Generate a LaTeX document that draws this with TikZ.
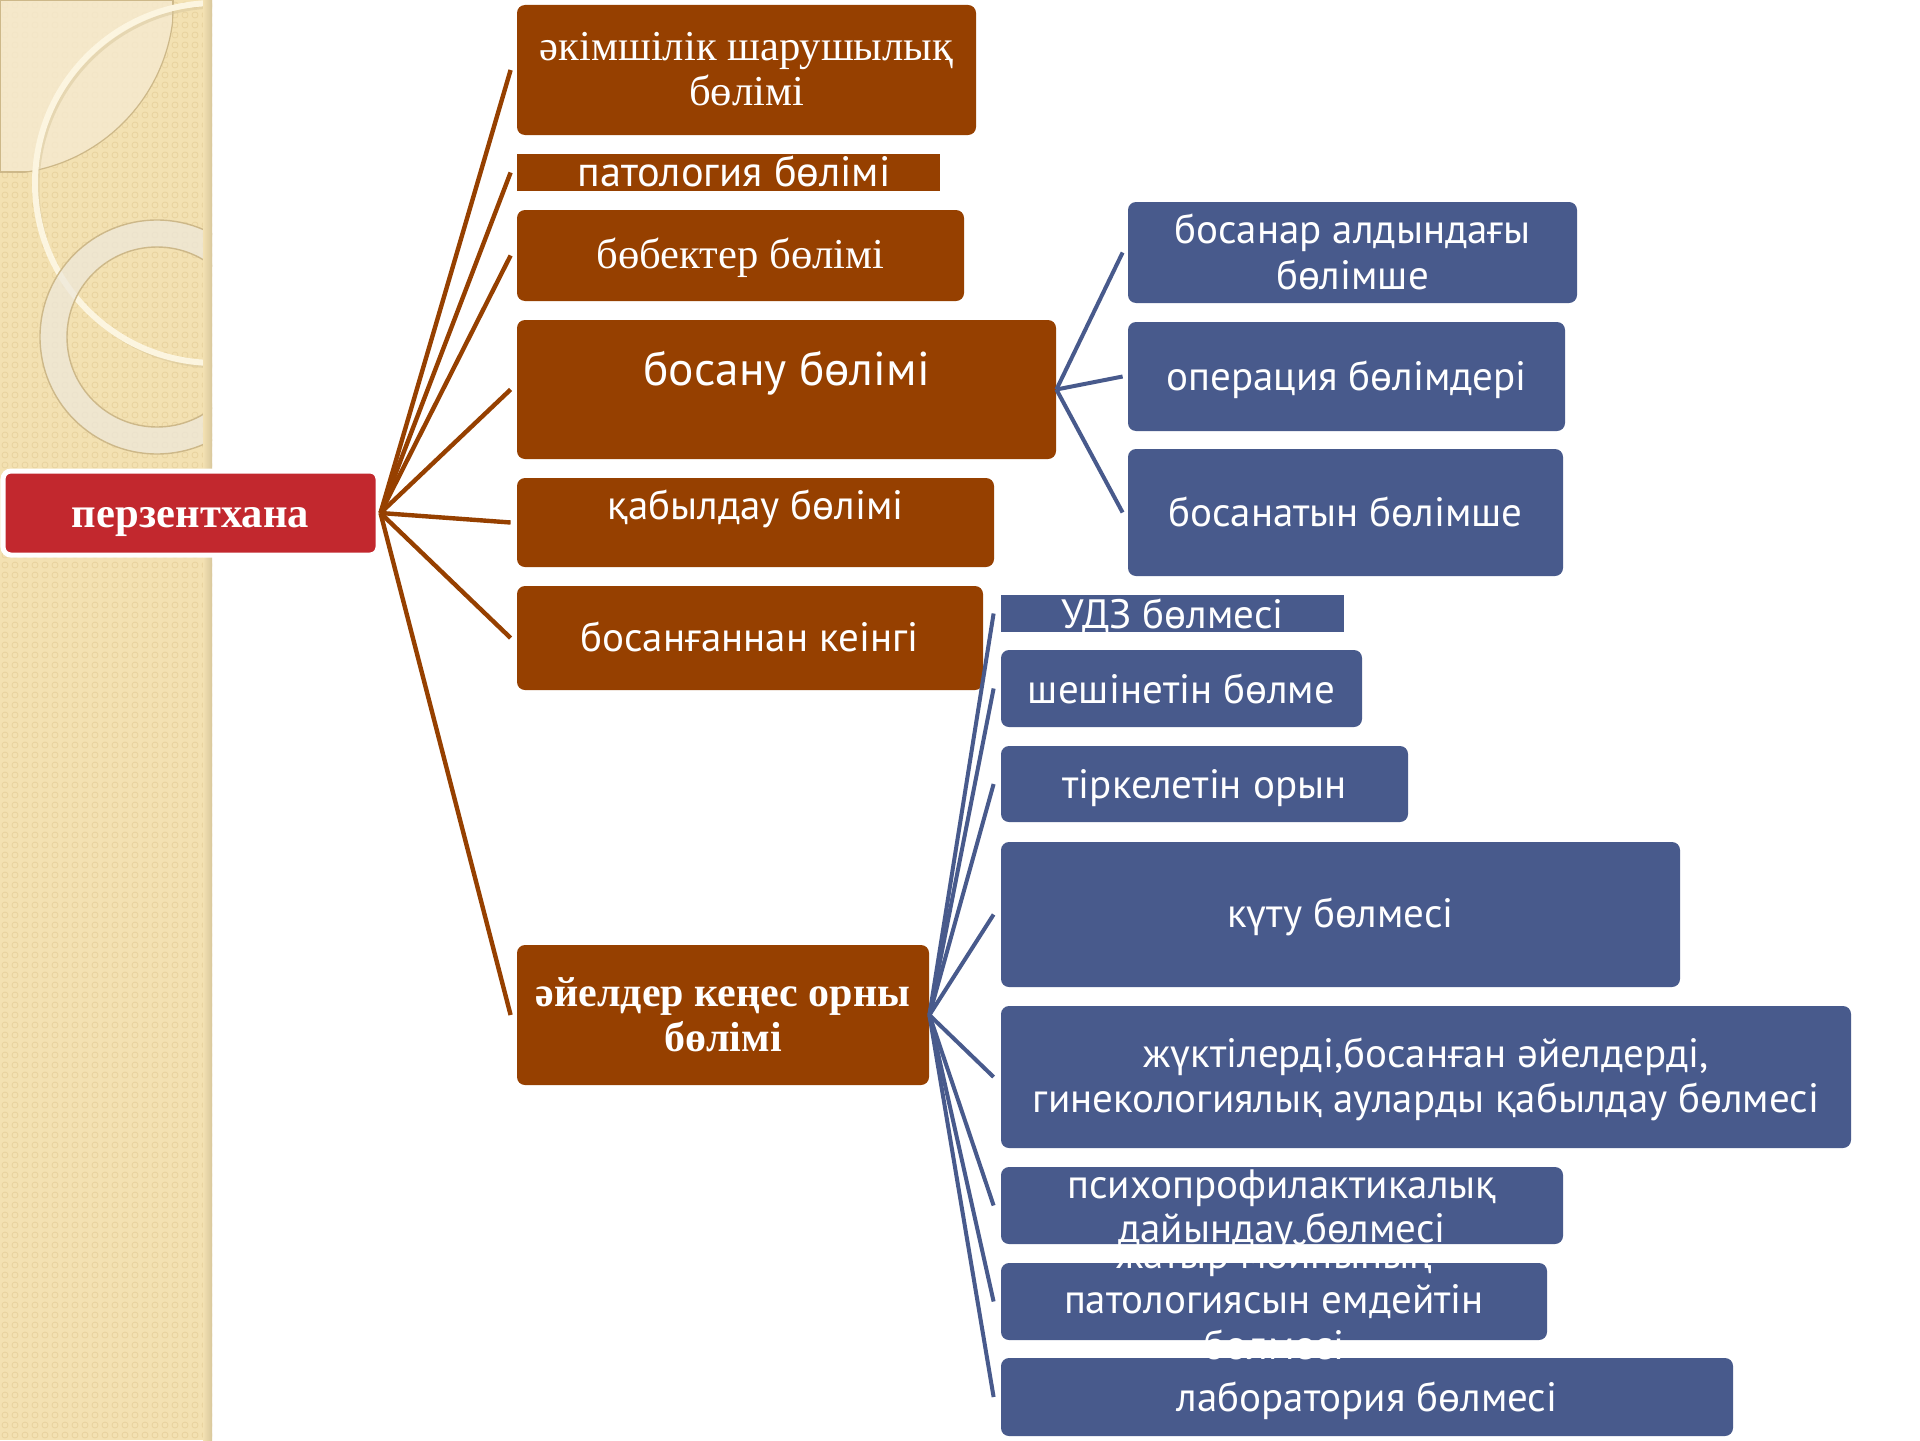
\documentclass[tikz,border=0pt]{standalone}
\usepackage{fontspec}
\setmainfont{Liberation Serif}
\newfontfamily\gsans{PT Sans}
\usetikzlibrary{fit,calc}
\definecolor{brn}{HTML}{964000}
\definecolor{blu}{HTML}{485A8C}
\definecolor{redb}{HTML}{C2282E}
\definecolor{beige}{HTML}{F3E1B2}
\definecolor{patc}{HTML}{E8D29E}
\definecolor{pale}{HTML}{F6EAD0}
\definecolor{edgec}{HTML}{CDB889}
\definecolor{cream}{HTML}{FCF5E0}
\definecolor{ringc}{HTML}{EEE8DA}
\definecolor{shadc}{HTML}{D8C79C}
\tikzset{
  brownbox/.style={fill=brn, draw=none, rounded corners=4bp, inner sep=0pt},
  bluebox/.style={fill=blu, draw=none, rounded corners=4bp, inner sep=0pt},
  sqbox/.style={rounded corners=0pt},
  redbox/.style={fill=redb, draw=white, line width=2.5bp, rounded corners=4bp, inner sep=0pt},
  brownline/.style={draw=brn, line width=2.2bp},
  blueline/.style={draw=blu, line width=2bp},
  lbl/.style={text=white, inner sep=0pt, anchor=base},
  seriftxt/.style={lbl, font=\fontsize{21.3bp}{24bp}\selectfont},
  serifbold/.style={lbl, font=\fontsize{21bp}{24bp}\selectfont\bfseries},
  sanstxt/.style={lbl, font=\gsans\fontsize{20.5bp}{24bp}\selectfont},
  sansbig/.style={lbl, font=\gsans\fontsize{23.7bp}{26bp}\selectfont},
}
\begin{document}
\begin{tikzpicture}[x=0.5bp,y=-0.5bp]
\useasboundingbox (0,0) rectangle (1920,1440);
\fill[white] (0,0) rectangle (1920,1440);
% ---------- decorative left strip ----------
\begin{scope}
  \clip (0,0) rectangle (212,1440);
  \fill[beige] (0,0) rectangle (212,1440);
  \foreach \i in {0,...,21} {
    \foreach \j in {0,...,143} {
      \draw[patc, line width=0.4bp] (\i*10+5,\j*10+5) circle[radius=3];
    }
  }
  \begin{scope}
    \clip (0,0) circle[radius=174];
    \fill[pale, opacity=0.8] (0,0) rectangle (173,172);
    \draw[edgec, line width=0.6bp] (0,0) rectangle (173,172);
  \end{scope}
  \begin{scope}
    \clip (0,0) rectangle (173,172);
    \draw[edgec, line width=0.6bp] (0,0) circle[radius=174];
  \end{scope}
  \draw[shadc, opacity=0.5, line width=1.5bp] (218,187) circle[radius=180];
  \draw[cream, line width=3bp] (215,183) circle[radius=180];
  \fill[ringc, opacity=0.75, even odd rule] (157,337) circle[radius=117] (157,337) circle[radius=90];
  \draw[edgec, line width=0.7bp] (157,337) circle[radius=117];
  \draw[edgec, line width=0.7bp] (157,337) circle[radius=90];
  \shade[left color=beige, right color=shadc] (203,0) rectangle (212,1440);
\end{scope}

% ---------- boxes ----------
\node[redbox, fit={(3,471) (378,555)}] (p) {};

\node[brownbox, fit={(517,5) (976,135)}] (b1) {};
\node[brownbox, sqbox, fit={(517,154) (940,191)}] (b2) {};
\node[brownbox, fit={(517,210) (964,301)}] (b3) {};
\node[brownbox, fit={(517,320) (1056,459)}] (b4) {};
\node[brownbox, fit={(517,478) (994,567)}] (b5) {};
\node[brownbox, fit={(517,586) (983,690)}] (b6) {};
\node[brownbox, fit={(517,945) (929,1085)}] (b7) {};

\node[bluebox, fit={(1128,202) (1577,303)}] (r1) {};
\node[bluebox, fit={(1128,322) (1565,431)}] (r2) {};
\node[bluebox, fit={(1128,449) (1563,576)}] (r3) {};

\node[bluebox, sqbox, fit={(1001,595) (1344,632)}] (s1) {};
\node[bluebox, fit={(1001,650) (1362,727)}] (s2) {};
\node[bluebox, fit={(1001,746) (1408,822)}] (s3) {};
\node[bluebox, fit={(1001,842) (1680,987)}] (s4) {};
\node[bluebox, fit={(1001,1006) (1851,1148)}] (s5) {};
\node[bluebox, fit={(1001,1167) (1563,1244)}] (s6) {};
\node[bluebox, fit={(1001,1263) (1547,1340)}] (s7) {};
\node[bluebox, fit={(1001,1358) (1733,1436)}] (s8) {};

% ---------- connectors ----------
\foreach \b in {b1,b2,b3,b4,b5,b6,b7}
  \draw[brownline] (p.east) -- ([xshift=-3bp]\b.west);
\foreach \r in {r1,r2,r3}
  \draw[blueline] (b4.east) -- ([xshift=-2.5bp]\r.west);
\foreach \s in {s1,s2,s3,s4,s5,s6,s7,s8}
  \draw[blueline] (b7.east) -- ([xshift=-3.5bp]\s.west);

% ---------- texts ----------
\node[serifbold, font=\fontsize{21.3bp}{24bp}\selectfont\bfseries] (tp) at (190.5,527) {перзентхана};

\node[seriftxt] (t1a) at (746.5,61) {әкімшілік шарушылық};
\node[seriftxt] (t1b) at (746.5,106) {бөлімі};
\node[sanstxt, font=\gsans\fontsize{21.2bp}{24bp}\selectfont] (t2) at (734,186) {патология бөлімі};
\node[seriftxt] (t3) at (740.5,268) {бөбектер бөлімі};
\node[sansbig] (t4) at (786.5,385) {босану бөлімі};
\node[sanstxt] (t5) at (755.5,519) {қабылдау бөлімі};
\node[sanstxt] (t6) at (749.5,651) {босанғаннан кеінгі};
\node[serifbold] (t7a) at (723,1006) {әйелдер кеңес орны};
\node[serifbold] (t7b) at (723,1051) {бөлімі};

\node[sanstxt] (tr1a) at (1352.5,243) {босанар алдындағы};
\node[sanstxt] (tr1b) at (1352.5,289) {бөлімше};
\node[sanstxt] (tr2) at (1346.5,390) {операция бөлімдері};
\node[sanstxt] (tr3) at (1345.5,526) {босанатын бөлімше};

\node[sanstxt] (ts1) at (1172.5,628) {УДЗ бөлмесі};
\node[sanstxt] (ts2) at (1181.5,703) {шешінетін бөлме};
\node[sanstxt] (ts3) at (1204.5,798) {тіркелетін орын};
\node[sanstxt] (ts4) at (1340.5,927) {күту бөлмесі};
\node[sanstxt] (ts5a) at (1426,1067) {жүктілерді,босанған әйелдерді,};
\node[sanstxt] (ts5b) at (1426,1112) {гинекологиялық ауларды қабылдау бөлмесі};
\node[sanstxt] (ts6a) at (1282,1198) {психопрофилактикалық};
\node[sanstxt] (ts6b) at (1282,1242) {дайындау бөлмесі};
\node[sanstxt] (ts7a) at (1274,1268) {жатыр мойнының};
\node[sanstxt] (ts7b) at (1274,1313) {патологиясын емдейтін};
\node[sanstxt] (ts7c) at (1274,1359) {бөлмесі};
\node[sanstxt] (ts8) at (1367,1411) {лаборатория бөлмесі};
\end{tikzpicture}
\end{document}
